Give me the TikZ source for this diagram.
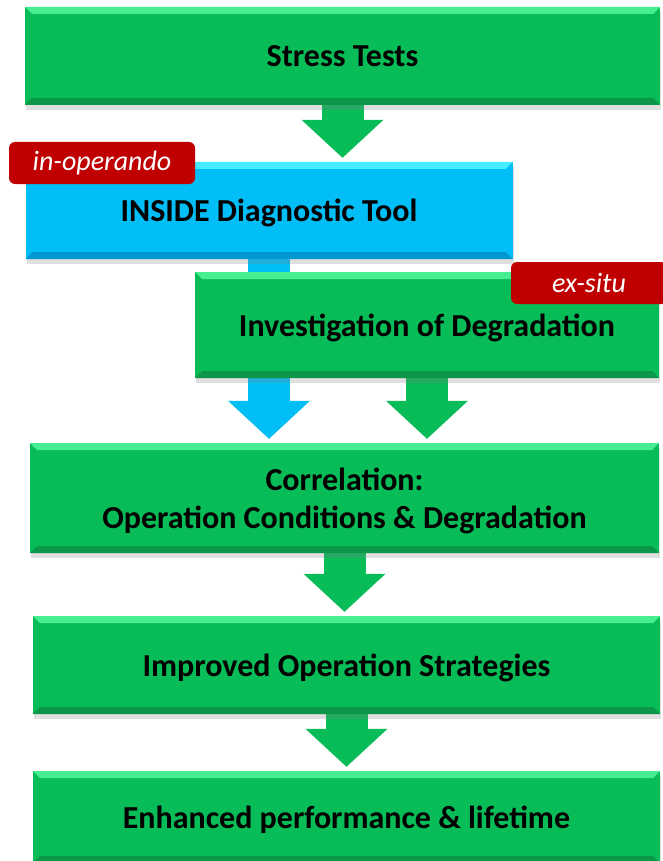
\documentclass[tikz,border=0pt]{standalone}
\usepackage{fontspec}
\setmainfont{Carlito}
\usetikzlibrary{arrows.meta,shadows,backgrounds}

\definecolor{greenmain}{RGB}{8,188,88}
\definecolor{greenlight}{RGB}{70,238,145}
\definecolor{greendark}{RGB}{12,150,72}
\definecolor{bluemain}{RGB}{2,190,246}
\definecolor{bluelight}{RGB}{70,236,255}
\definecolor{bluedark}{RGB}{0,150,208}
\definecolor{tagred}{RGB}{192,0,0}

\begin{document}
\begin{tikzpicture}[x=1pt, y=-1pt,
    box/.style = {rectangle, fill=#1main, inner sep=0pt, align=center, text depth=0pt,
        font=\bfseries\fontsize{32}{38}\selectfont,
        drop shadow={shadow xshift=1pt, shadow yshift=-5pt, opacity=.25},
        path picture={
            \fill[#1light] (path picture bounding box.north west) -- (path picture bounding box.north east)
                -- ([shift={(-7pt,-7pt)}]path picture bounding box.north east)
                -- ([shift={(7pt,-7pt)}]path picture bounding box.north west) -- cycle;
            \fill[#1dark] (path picture bounding box.south west) -- (path picture bounding box.south east)
                -- ([shift={(-7pt,7pt)}]path picture bounding box.south east)
                -- ([shift={(7pt,7pt)}]path picture bounding box.south west) -- cycle;
        }},
    tag/.style = {rectangle, fill=tagred, rounded corners=6pt, inner sep=0pt,
        text=white, font=\itshape\fontsize{28}{30}\selectfont},
    flow/.style = {line width=42pt, draw=#1main, shorten >=4pt,
        -{Triangle[length=38pt, width=82pt, line width=0pt]}}]

    \useasboundingbox (0,0) rectangle (662,861);

    % Boxes
    \node[box=green, minimum width=635pt, minimum height=98pt] (stress) at (342.5,56) {Stress Tests};
    \node[box=blue, minimum width=487pt, minimum height=97pt] (tool) at (269,210.5) {INSIDE Diagnostic Tool};
    \node[box=green, minimum width=464pt, minimum height=106pt] (invest) at (427,325) {Investigation of Degradation};
    \node[box=green, minimum width=629pt, minimum height=110pt] (corr) at (344.5,498) {Correlation:\\Operation Conditions \& Degradation};
    \node[box=green, minimum width=627pt, minimum height=98pt] (strat) at (346.5,665) {Improved Operation Strategies};
    \node[box=green, minimum width=627pt, minimum height=92pt] (perf) at (346.5,817) {Enhanced performance \& lifetime};

    % Tags
    \node[tag, minimum width=186pt, minimum height=42pt] (inop) at (102,163) {in-operando};
    \node[tag, minimum width=156pt, minimum height=42pt] (exsitu) at (589,283) {ex-situ};

    % Arrows
    \begin{scope}[on background layer]
        \draw[flow=green] (stress.south) -- (stress.south |- tool.north);
        \draw[flow=blue] (tool.south) -- (tool.south |- corr.north);
        \draw[flow=green] (invest.south) -- (invest.south |- corr.north);
        \draw[flow=green] (corr.south) -- (corr.south |- strat.north);
        \draw[flow=green] (strat.south) -- (strat.south |- perf.north);
    \end{scope}

\end{tikzpicture}
\end{document}
